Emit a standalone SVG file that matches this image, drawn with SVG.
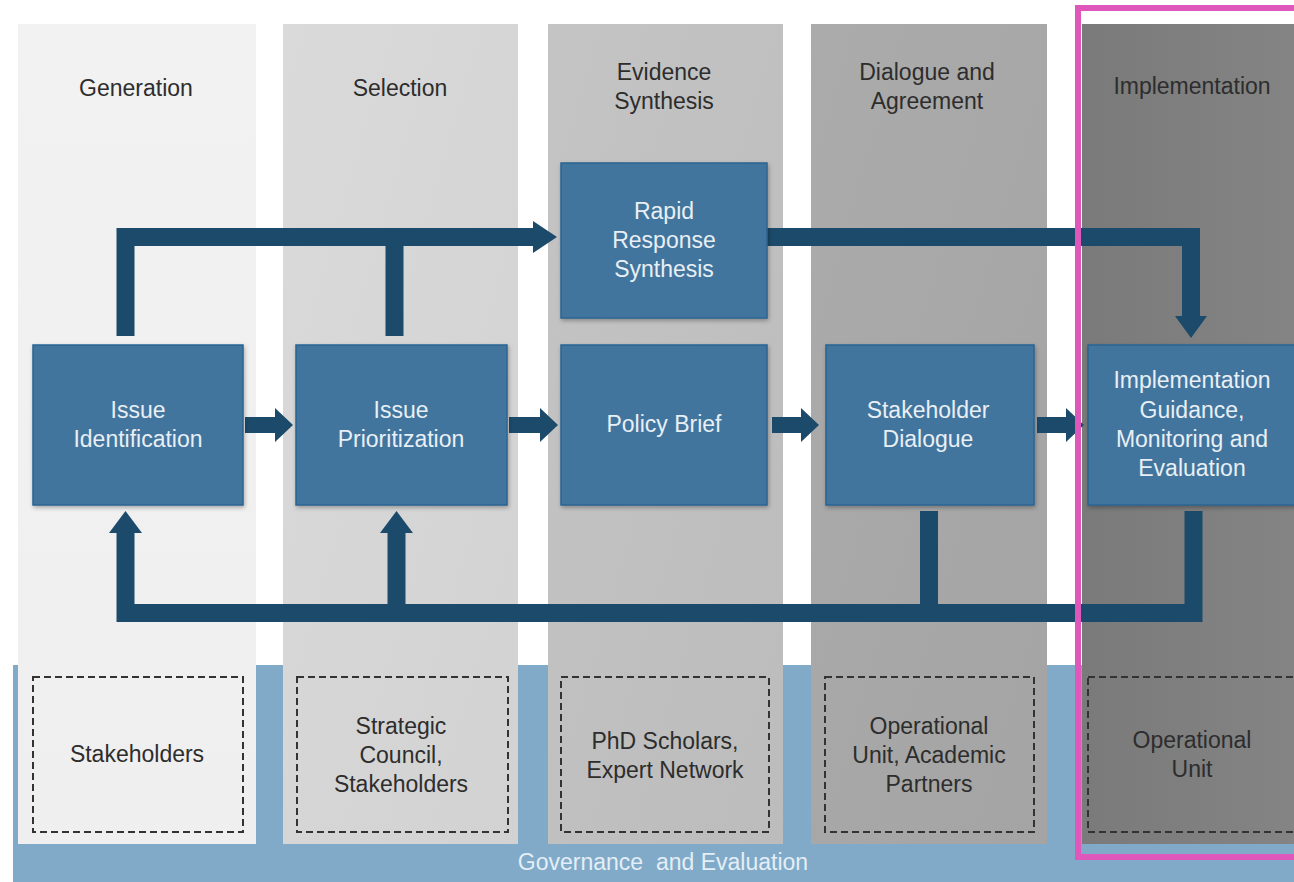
<svg xmlns="http://www.w3.org/2000/svg" width="1294" height="882" viewBox="0 0 1294 882">
<defs>
<linearGradient id="g1" x1="0" y1="0" x2="0" y2="1"><stop offset="0" stop-color="#f2f2f2"/><stop offset="1" stop-color="#efefef"/></linearGradient>
<linearGradient id="g2" x1="0" y1="0" x2="1" y2="1"><stop offset="0" stop-color="#dadada"/><stop offset="1" stop-color="#d2d2d2"/></linearGradient>
<linearGradient id="g3" x1="0" y1="0" x2="1" y2="1"><stop offset="0" stop-color="#c4c4c4"/><stop offset="1" stop-color="#bcbcbc"/></linearGradient>
<linearGradient id="g4" x1="0" y1="0" x2="1" y2="1"><stop offset="0" stop-color="#ababab"/><stop offset="1" stop-color="#a4a4a4"/></linearGradient>
<linearGradient id="g5" x1="0" y1="0" x2="1" y2="0"><stop offset="0" stop-color="#7a7a7a"/><stop offset="1" stop-color="#848484"/></linearGradient>
<filter id="sh" x="-5%" y="-5%" width="115%" height="115%"><feDropShadow dx="1" dy="2" stdDeviation="2" flood-color="#000" flood-opacity="0.3"/></filter>
<style>
.lbl{font-family:"Liberation Sans",Arial,sans-serif;font-size:23px;text-anchor:middle}
.hd{fill:#2d2d2d}
.nt{fill:#e8eff5}
.node{fill:#43749d;stroke:#2a6393;stroke-width:1.5;filter:url(#sh)}
.dash{fill:none;stroke:#333;stroke-width:2;stroke-dasharray:7 4}
.ln{fill:none;stroke:#1c4a6a;stroke-width:18;stroke-linejoin:miter;stroke-linecap:butt}
.ah{fill:#1c4a6a}
</style>
</defs>
<rect width="1294" height="882" fill="#ffffff"/>
<!-- governance band -->
<rect x="13" y="665" width="1281" height="217" fill="#80aac8"/>
<!-- columns -->
<g id="columns">
<rect x="18" y="24" width="238" height="820" fill="url(#g1)"/>
<rect x="283" y="24" width="235" height="820" fill="url(#g2)"/>
<rect x="548" y="24" width="235" height="820" fill="url(#g3)"/>
<rect x="811" y="24" width="236" height="820" fill="url(#g4)"/>
<rect x="1082" y="24" width="212" height="820" fill="url(#g5)"/>
</g>
<g id="headers" class="lbl hd">
<text x="136" y="96">Generation</text>
<text x="400" y="96">Selection</text>
<text x="664" y="80">Evidence</text>
<text x="664" y="109">Synthesis</text>
<text x="927" y="80">Dialogue  and</text>
<text x="927" y="109">Agreement</text>
<text x="1192" y="94">Implementation</text>
</g>
<!-- connectors -->
<g id="connectors">
<path class="ln" d="M125.5,336 V237 H535"/>
<path class="ln" d="M394.5,336 V246"/>
<polygon class="ah" points="533,221 557,237 533,253"/>
<path class="ln" d="M767,237 H1191 V316"/>
<polygon class="ah" points="1175,316 1207,316 1191,338"/>
<path class="ln" d="M125.5,533 V613 H1193.5 V511"/>
<path class="ln" d="M396.5,604 V533"/>
<path class="ln" d="M929,604 V511"/>
<polygon class="ah" points="109,533 142,533 125.5,511"/>
<polygon class="ah" points="380,533 413,533 396.5,511"/>
<path class="ah" d="M245,417 H275 V408 L293,425 L275,442 V433 H245 Z"/>
<path class="ah" d="M509,417 H540 V408 L558,425 L540,442 V433 H509 Z"/>
<path class="ah" d="M772,417 H801 V408 L819,425 L801,442 V433 H772 Z"/>
<path class="ah" d="M1037,417 H1066 V408 L1084,425 L1066,442 V433 H1037 Z"/>
</g>
<!-- nodes -->
<g id="n-issue-identification">
<rect class="node" x="33" y="345" width="210" height="160"/>
<text class="lbl nt" x="138" y="418">Issue</text>
<text class="lbl nt" x="138" y="447">Identification</text>
</g>
<g id="n-issue-prioritization">
<rect class="node" x="296" y="345" width="211" height="160"/>
<text class="lbl nt" x="401" y="418">Issue</text>
<text class="lbl nt" x="401" y="447">Prioritization</text>
</g>
<g id="n-rapid-response">
<rect class="node" x="561" y="163" width="206" height="155"/>
<text class="lbl nt" x="664" y="219">Rapid</text>
<text class="lbl nt" x="664" y="248">Response</text>
<text class="lbl nt" x="664" y="277">Synthesis</text>
</g>
<g id="n-policy-brief">
<rect class="node" x="561" y="345" width="206" height="160"/>
<text class="lbl nt" x="664" y="432">Policy Brief</text>
</g>
<g id="n-stakeholder-dialogue">
<rect class="node" x="826" y="345" width="208" height="160"/>
<text class="lbl nt" x="928" y="418">Stakeholder</text>
<text class="lbl nt" x="928" y="447">Dialogue</text>
</g>
<g id="n-implementation">
<rect class="node" x="1088" y="345" width="212" height="160"/>
<text class="lbl nt" x="1192" y="388">Implementation</text>
<text class="lbl nt" x="1192" y="418">Guidance,</text>
<text class="lbl nt" x="1192" y="447">Monitoring  and</text>
<text class="lbl nt" x="1192" y="476">Evaluation</text>
</g>
<!-- actor boxes -->
<g id="a-stakeholders">
<rect class="dash" x="33" y="677" width="210" height="155"/>
<text class="lbl hd" x="137" y="762">Stakeholders</text>
</g>
<g id="a-strategic-council">
<rect class="dash" x="297" y="677" width="211" height="155"/>
<text class="lbl hd" x="401" y="734">Strategic</text>
<text class="lbl hd" x="401" y="763">Council,</text>
<text class="lbl hd" x="401" y="792">Stakeholders</text>
</g>
<g id="a-phd-scholars">
<rect class="dash" x="561" y="677" width="208" height="155"/>
<text class="lbl hd" x="665" y="749">PhD Scholars,</text>
<text class="lbl hd" x="665" y="778">Expert Network</text>
</g>
<g id="a-operational-academic">
<rect class="dash" x="825" y="677" width="209" height="155"/>
<text class="lbl hd" x="929" y="734">Operational</text>
<text class="lbl hd" x="929" y="763">Unit, Academic</text>
<text class="lbl hd" x="929" y="792">Partners</text>
</g>
<g id="a-operational-unit">
<rect class="dash" x="1088" y="677" width="212" height="155"/>
<text class="lbl hd" x="1192" y="748">Operational</text>
<text class="lbl hd" x="1192" y="777">Unit</text>
</g>
<text class="lbl" x="663" y="870" fill="#e4eef6" xml:space="preserve">Governance  and Evaluation</text>
<!-- highlight -->
<path d="M1300,8 H1078 V857 H1300" fill="none" stroke="#e057bb" stroke-width="6"/>
</svg>
